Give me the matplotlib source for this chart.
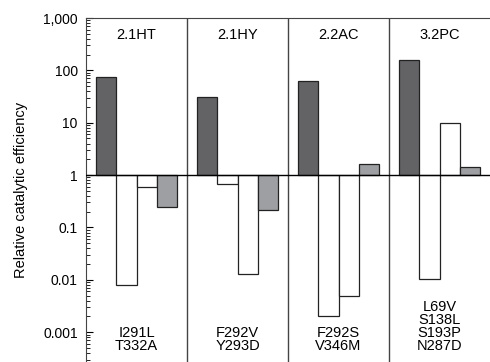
import numpy as np
import matplotlib.pyplot as plt
from matplotlib.ticker import FixedLocator, LogLocator, NullFormatter

plt.rcParams['font.family'] = ['Liberation Sans', 'DejaVu Sans']

groups = ['2.1HT', '2.1HY', '2.2AC', '3.2PC']
mutations = ['I291L\nT332A', 'F292V\nY293D', 'F292S\nV346M', 'L69V\nS138L\nS193P\nN287D']
dark = [75, 31, 63, 158]
white1 = [0.008, 0.67, 0.002, 0.0102]
white2 = [0.6, 0.013, 0.005, 10]
light = [0.25, 0.22, 1.6, 1.4]

fig = plt.figure(figsize=(4.9, 3.62), dpi=100)
ax = fig.add_axes([86/490, 0, 404/490, 344/362])

series = [(dark, '#636366'), (white1, 'white'), (white2, 'white'), (light, '#9e9fa2')]
x = np.arange(len(groups))
for i, (vals, col) in enumerate(series):
    vals = np.array(vals)
    ax.bar(x + 0.2 + 0.2*i, vals - 1, bottom=1, width=0.2, color=col,
           edgecolor='#222222', linewidth=0.9, zorder=2)

ax.set_yscale('log')
ax.set_ylim(10**-3.57, 1000)
ax.set_xlim(0, 4)
ax.axhline(1, color='black', linewidth=1, zorder=3)
for g in range(1, 4):
    ax.axvline(g, color='#444444', linewidth=1)

for g in range(len(groups)):
    ax.text(g + 0.5, 480, groups[g], ha='center', va='center', fontsize=10.5)
    ax.text(g + 0.5, 0.0004, mutations[g], ha='center', va='bottom',
            fontsize=10.5, linespacing=0.9)

ax.yaxis.set_major_locator(FixedLocator([0.001, 0.01, 0.1, 1, 10, 100, 1000]))
ax.set_yticklabels(['0.001', '0.01', '0.1', '1', '10', '100', '1,000'])
ax.yaxis.set_minor_locator(LogLocator(base=10, subs=np.arange(2, 10)))
ax.yaxis.set_minor_formatter(NullFormatter())
ax.tick_params(axis='y', which='major', direction='in', length=5, labelsize=10, pad=6)
ax.tick_params(axis='y', which='minor', direction='in', length=3)
ax.set_xticks([])
ax.spines['right'].set_visible(False)
ax.spines['bottom'].set_visible(False)
for s in ['left', 'top']:
    ax.spines[s].set_color('#444444')
ax.set_ylabel('Relative catalytic efficiency', fontsize=10.5, labelpad=11)

fig.savefig('out.png', dpi=100)
